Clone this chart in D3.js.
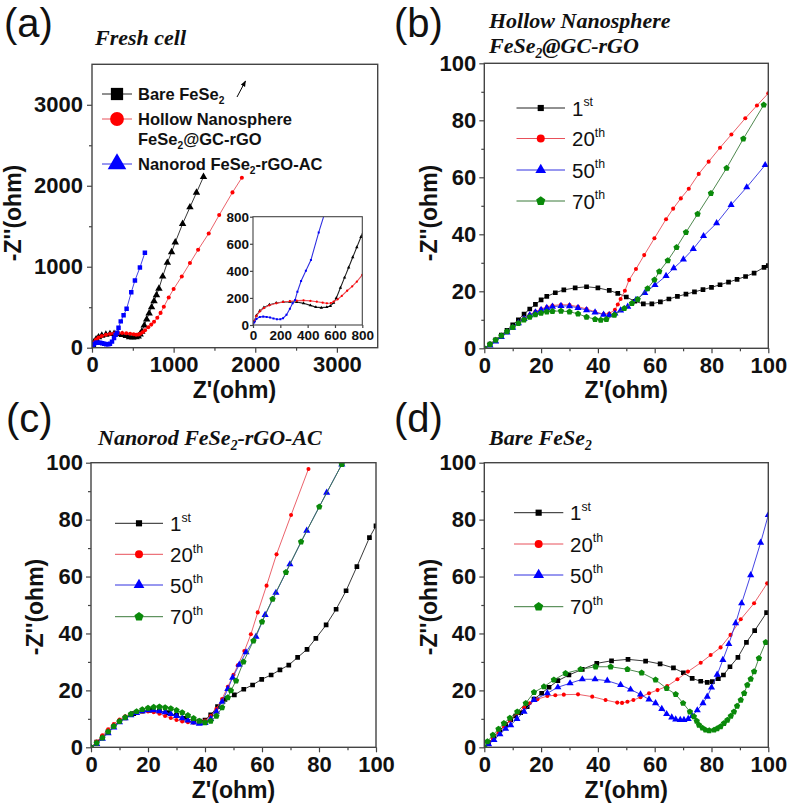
<!DOCTYPE html>
<html><head><meta charset="utf-8">
<script src="https://cdn.jsdelivr.net/npm/d3@7"></script>
<style>body{margin:0;background:#fff}svg{display:block}</style>
</head><body>
<svg id="c" width="787" height="806"></svg>
<script>
// ---------- DATA ----------
// (a) Fresh cell
const aBlackX=[0,10,25,50,80,120,170,220,270,320,370,420,460,500,540,566,590,610,640,670,700,730,760,790,820,866,923,975,1020,1110,1200,1280,1366];
const aBlackY=[0,30,70,105,130,150,163,170,172,170,160,145,132,128,132,140,165,200,275,350,425,500,575,650,730,880,1050,1180,1301,1530,1735,1915,2111];
const aRedX=[0,10,25,50,80,120,170,220,270,320,370,420,467,510,541,570,590,620,650,689,726,760,800,840,880,940,1000,1100,1200,1300,1430,1558,1721,1836];
const aRedY=[0,30,68,100,125,145,160,170,176,180,182,178,172,165,160,162,172,190,215,253,285,320,370,430,505,620,725,880,1045,1210,1411,1638,1918,2100];
const aBlueX=[0,10,25,50,75,100,125,150,175,200,220,245,270,290,308,325,352,387,424,481,526,587,648];
const aBlueY=[0,20,45,60,62,60,55,48,42,42,50,75,120,160,185,246,325,400,480,684,830,990,1173];

// (b) Hollow Nanosphere FeSe2@GC-rGO
const b1X=[0,2,4,6,8,10,12,14,16,18,20,22,25,28,32,36,40,44,47,50,53,56,59,62,65,68,71,74,77,80,83,86,89,92,95,98.5,100];
const b1Y=[0,1.5,3,4.6,6.3,8.2,10,12,13.8,15.4,17,18.2,19.5,20.5,21.2,21.6,21.2,20.3,19.3,18,16.5,15.6,15.6,16.3,17.3,18.2,19,19.8,20.6,21.4,22.3,23.2,24.2,25.2,26.4,28.4,29];
const b20X=[0,2,4,6,8,10,12,14,16,18,20,22,24,27,30,33,36,39,42,44,46,47,48,49.5,51,53.4,56.3,59.9,64,66.5,69.2,72,75.5,79,83,87,91.9,96,100];
const b20Y=[0,1.4,2.8,4.3,5.8,7.4,9,10.5,11.8,12.9,13.8,14.5,15,15.3,15.2,14.6,13.8,12.8,12,12.2,13.5,15.4,17.3,20.2,24,27.8,32.7,38.6,45.3,49,52.6,56,61.2,65.5,70.4,75,80.7,85.2,89.5];
const b50X=[0,2,4,6,8,10,12,14,16,18,20,22,24,27,30,33,36,39,42,44,46,48,50.5,53.4,56.5,60.1,64,66.7,70.1,73.6,77.2,81.8,86.9,92.4,98.9];
const b50Y=[0,1,2.4,4,5.6,7.2,8.8,10.3,11.6,12.6,13.5,14.2,14.6,14.9,14.8,14.2,13.4,12.6,11.8,11.6,12.2,13.3,14.6,17,19.4,22.2,25.4,28.1,31.2,34.9,39.4,43.9,50.3,56.5,64.3];
const b70X=[0,2,4,6,8,10,12,14,16,18,20,22,24,27,30,33,36,39,41,43,45.8,49.3,52,54,57.5,59.9,61.6,64.6,67.7,71,75.1,79.8,85.3,91.2,98.4];
const b70Y=[0,1.4,2.9,4.4,5.9,7.4,8.8,10,11,11.8,12.4,12.8,13,13.1,12.8,12.1,11,10.2,9.9,10.2,11.7,14,15.8,17.2,21,24,26.9,30.8,35.4,40.7,47.1,54.4,63.2,73.5,85.4];

// (c) Nanorod FeSe2-rGO-AC
const c1X=[0,2,4,6,8,10,12,15,18,21,24,27,30,33,36,38,40,42,44.4,47,50.3,53.6,56.7,59.9,63.2,66.3,69.4,72.5,75.8,78.9,82.5,86,89.5,93.3,97.7,100];
const c1Y=[0,1.8,3.6,5.5,7.4,9,10.3,11.8,12.7,13,12.8,12.2,11.2,10.2,9.4,9.2,9.6,11.4,14.3,16.8,18.4,20.4,21.9,23.9,25.4,27.2,28.9,31.6,34.4,38.3,43,48.5,55,63.5,73.7,77.8];
const c20X=[0,2,4,6,8,10,12,14,16,18,20,22,24,26,28,30,32,34,36,38,40,42,44,46,48,50,51.5,53.8,56.1,58.5,61.6,65.1,70.2,76.3];
const c20Y=[0,2,4.2,6.3,8.2,9.8,10.9,11.8,12.3,12.6,12.6,12.3,11.8,11,10.3,9.6,9.1,8.8,8.6,8.7,9.4,11,13.5,17,21.3,25.5,28.8,33.8,39.7,47.4,56.8,67.8,81.6,97.8];
const c50X=[0,2,4,6,8,10,12,14,16,18,20,22,24,26,28,30,32,34,36,38,40,42,44,46,48,49.7,52,54.4,57.9,61.1,64.9,69.8,75.7,82.7,88];
const c50Y=[0,1.2,3,5,7,8.8,10.2,11.3,12.1,12.7,13,13,12.7,12.3,11.7,11,10.2,9.4,8.7,8.3,8.6,10,12.5,16,20.5,24.5,29,33.4,38.9,46.5,54.3,64.3,76.1,89.5,99.4];
const c70X=[0,2,4,6,8,10,12,14,16,18,20,22,24,26,28,30,32,34,36,38,40,42,44,46,48,49.1,50.9,53.5,57,60,63.7,68.4,73.7,80.1,88];
const c70Y=[0,1.5,3.3,5.4,7.4,9.1,10.5,11.7,12.6,13.3,13.8,14.1,14.2,14,13.6,13,12.2,11.2,10.2,9.2,8.7,9.2,11,14,17.5,19.9,23.4,30,37.4,44.1,52.1,61.5,72.2,84.5,99.4];

// (d) Bare FeSe2
const d1X=[0,1.5,3.4,5.5,7.5,9.3,11,12.8,15.1,17.5,20.2,22.8,25.9,29.8,34.5,39.6,44.8,50.6,56.8,61.9,66.6,70.1,73.2,76.2,78.5,80.3,82.4,84.2,86.5,89.3,92.3,95.2,99.4];
const d1Y=[0,1.6,3.7,6,8,9.6,11,12.2,14.3,16.9,19,21.1,23.4,25.4,27.4,29.5,30.4,30.9,30.3,29.3,27.9,26.2,24.2,23.2,22.8,23.1,24.1,25.4,28.3,31.6,36.9,41,47.3];
const d20X=[0,1.5,3,5,7,9,11.6,14,16,18.7,22.2,25,28,33,38,42.7,46.8,48.5,50.4,52.5,55,58,61,64.4,68,71.7,76.2,79.7,83.2,86.7,90.3,95,99.6];
const d20Y=[0,1.5,3.1,5.2,7.3,9.4,12,14,15.5,16.9,18,18.3,18.5,18.6,17.8,16.6,15.7,15.6,16,16.6,17.6,19,20.1,21.5,23.9,26.6,29.7,32.4,35.1,39.5,45,50.6,57.6];
const d50X=[0,1.5,3.4,5.5,7.5,9.3,11.5,14,17.5,22.2,25.9,30.2,34.5,39,43.3,48,51.5,55,58,60.3,62.5,64.2,66,67.4,69,70.3,71.8,73.2,75,77,78.5,80,82,84,86.1,88.5,90.6,93.8,97.3,100];
const d50Y=[0,1.1,2.6,4.6,6.5,7.8,10,12.5,16.6,19,21.1,22.5,23.9,23.9,23.4,21.9,20.3,18.6,16.8,15.5,13.5,11.7,10.5,9.8,9.6,9.6,10,11,13,15.5,17.8,21,25.5,30.7,36.3,43.6,50.6,60.5,71.9,81.6];
const d70X=[0,1.1,3,5,6.9,9,11.6,14.6,17.5,21,24.5,28.6,33.9,39.2,44.5,50.4,55.4,60.3,64.2,67.4,70,72.4,73.8,74.8,75.6,76.8,77.9,79.2,80.9,82,83.2,84.4,85.6,86.8,87.9,89,90.3,91.5,92.6,93.8,95,96.7,99.1];
const d70Y=[0,2,4.3,6.4,8.4,10.3,12.5,15.5,19.3,21.3,23.7,26,27.4,28.3,28.3,27.4,26.2,23.7,20.7,18.6,15.5,12.5,10.8,9.2,7.8,6.8,6.1,5.9,6.1,6.6,7.3,8.4,9.6,11,12.5,14.5,16.6,19,21.9,24,26.6,31.3,36.9];

const cycleLabels=[["1","st"],["20","th"],["50","th"],["70","th"]];
const tickA=[0,1000,2000,3000], minorA=[500,1500,2500];
const tickB=[0,20,40,60,80,100], minorB=[10,30,50,70,90];
const tickInset=[0,200,400,600,800];

// ---------- DRAWING ----------
const svg=d3.select('#c');
const SANS="'Liberation Sans', Arial, sans-serif";
const SERIF="'Liberation Serif', 'Times New Roman', serif";
const COL={k:"#000",r:"#ff0000",b:"#0000ff",g:"#0a8a0a"};
const LCOL={k:"#222",r:"#e8505a",b:"#3030e0",g:"#3b7a3b"};
const pentagon={draw(ctx,size){const r=Math.sqrt(size/(2.5*Math.sin(2*Math.PI/5)));for(let i=0;i<5;i++){const a=-Math.PI/2+i*2*Math.PI/5;const x=r*Math.cos(a),y=r*Math.sin(a);i?ctx.lineTo(x,y):ctx.moveTo(x,y);}ctx.closePath();}};
const SYM={sq:d3.symbolSquare,ci:d3.symbolCircle,tr:d3.symbolTriangle,pe:pentagon};
const zip=(X,Y)=>X.map((v,i)=>[v,Y[i]]);

const defs=svg.append('defs');
defs.append('marker').attr('id','arr').attr('viewBox','0 0 10 10').attr('refX',9).attr('refY',5)
  .attr('markerWidth',6).attr('markerHeight',6).attr('orient','auto')
  .append('path').attr('d','M0,1 L10,5 L0,9 z').attr('fill','#000');

let clipN=0;
function drawPlot(g,o){
  const x=d3.scaleLinear().domain(o.xd).range([o.l,o.r]);
  const y=d3.scaleLinear().domain(o.yd).range([o.b,o.t]);
  const id='clip'+(clipN++);
  defs.append('clipPath').attr('id',id).append('rect').attr('x',o.l).attr('y',o.t).attr('width',o.r-o.l).attr('height',o.b-o.t);
  if(o.bg) g.append('rect').attr('x',o.l).attr('y',o.t).attr('width',o.r-o.l).attr('height',o.b-o.t).attr('fill','#fff');
  const fs=o.fs;
  const ax=g.append('g').attr('transform',`translate(0,${o.b})`).call(d3.axisBottom(x).tickValues(o.ticks).tickSize(o.tk).tickPadding(o.tp).tickFormat(d3.format('d')));
  const ay=g.append('g').attr('transform',`translate(${o.l},0)`).call(d3.axisLeft(y).tickValues(o.ticks).tickSize(o.tk).tickPadding(o.tpy).tickFormat(d3.format('d')));
  if(o.minor){
    g.append('g').attr('transform',`translate(0,${o.b})`).call(d3.axisBottom(x).tickValues(o.minor).tickSize(3).tickFormat(''));
    g.append('g').attr('transform',`translate(${o.l},0)`).call(d3.axisLeft(y).tickValues(o.minor).tickSize(3).tickFormat(''));
  }
  g.selectAll('.domain').remove();
  g.selectAll('.tick line').attr('stroke','#444').attr('stroke-width',1.2);
  g.selectAll('.tick text').filter(function(){return this.textContent==='';}).remove();
  [ax,ay].forEach(a=>a.selectAll('text').attr('font-family',SANS).attr('font-weight','bold').attr('font-size',fs).attr('fill','#111'));
  const pg=g.append('g').attr('clip-path',`url(#${id})`);
  o.series.forEach(s=>{
    const pts=zip(s.x,s.y);
    pg.append('path').attr('d',d3.line().x(d=>x(d[0])).y(d=>y(d[1]))(pts))
      .attr('fill','none').attr('stroke',s.lc).attr('stroke-width',o.lw||0.9);
    const sp=d3.symbol().type(SYM[s.sym]).size(s.size)();
    pg.selectAll(null).data(pts).enter().append('path').attr('d',sp)
      .attr('transform',d=>`translate(${x(d[0])},${y(d[1])})`).attr('fill',s.c);
  });
  g.append('rect').attr('x',o.l).attr('y',o.t).attr('width',o.r-o.l).attr('height',o.b-o.t)
    .attr('fill','none').attr('stroke','#444').attr('stroke-width',o.fw||1.4);
  return {x,y};
}

function subText(g,x,y,parts,size,weight,family,style){
  const t=g.append('text').attr('x',x).attr('y',y).attr('font-family',family).attr('font-size',size)
    .attr('font-weight',weight).attr('font-style',style||'normal').attr('fill','#111');
  let shift=0;
  parts.forEach(p=>{
    if(typeof p==='string'){const ts=t.append('tspan').text(p); if(shift){ts.attr('dy',-shift);shift=0;}}
    else if(p.sub){const d=size*0.22;t.append('tspan').attr('font-size',size*0.62).attr('dy',d-shift).text(p.sub);shift=d;}
    else if(p.sup){const d=-size*0.45;t.append('tspan').attr('font-size',size*0.6).attr('dy',d-shift).text(p.sup);shift=d;}
  });
  return t;
}

function axisTitles(g,cx,cy,xx,xb){
  g.append('text').attr('transform',`translate(${cx},${cy}) rotate(-90)`).attr('text-anchor','middle').attr('dy','0.35em')
    .attr('font-family',SANS).attr('font-weight','bold').attr('font-size',23).attr('fill','#111').text("-Z''(ohm)");
  g.append('text').attr('x',xx).attr('y',xb).attr('text-anchor','middle')
    .attr('font-family',SANS).attr('font-weight','bold').attr('font-size',23).attr('fill','#111').text("Z'(ohm)");
}
function panelLabel(x,y,t){
  svg.append('text').attr('x',x).attr('y',y).attr('font-family',SANS).attr('font-size',40).attr('fill','#111').text(t);
}

// ---- Panel (a)
const gA=svg.append('g');
const aSeries=[
  {x:aBlackX,y:aBlackY,c:COL.k,lc:LCOL.k,sym:'tr',size:24},
  {x:aRedX,y:aRedY,c:COL.r,lc:LCOL.r,sym:'ci',size:13},
  {x:aBlueX,y:aBlueY,c:COL.b,lc:LCOL.b,sym:'sq',size:20}
];
drawPlot(gA,{l:92,r:377.7,t:64.3,b:347.7,xd:[0,3500],yd:[0,3500],ticks:tickA,minor:minorA,tk:5,tp:4,tpy:4,fs:22,series:aSeries});
axisTitles(gA,13,213,234.5,398);
panelLabel(4,37,"(a)");
subText(gA,95,45,["Fresh cell"],22,'bold',SERIF,'italic');
const legA=gA.append('g');
const legRows=[94,119,164];
const legSym=['sq','ci','tr'], legCol=[COL.k,COL.r,COL.b], legLc=[LCOL.k,LCOL.r,LCOL.b], legSz=[150,150,150];
legRows.forEach((ry,i)=>{
  legA.append('line').attr('x1',102).attr('x2',132).attr('y1',ry).attr('y2',ry).attr('stroke',legLc[i]).attr('stroke-width',1);
  legA.append('path').attr('d',d3.symbol().type(SYM[legSym[i]]).size(legSz[i])()).attr('transform',`translate(117,${ry})`).attr('fill',legCol[i]);
});
subText(legA,138,100,["Bare FeSe",{sub:"2"}],16.5,'bold',SANS);
subText(legA,138,125,["Hollow  Nanosphere"],16.5,'bold',SANS);
subText(legA,138,145,["FeSe",{sub:"2"},"@GC-rGO"],16.5,'bold',SANS);
subText(legA,138,170,["Nanorod  FeSe",{sub:"2"},"-rGO-AC"],16.5,'bold',SANS);
legA.append('line').attr('x1',237).attr('y1',97).attr('x2',245.5).attr('y2',81).attr('stroke','#000').attr('stroke-width',1).attr('marker-end','url(#arr)');
const inSeries=[
  {x:aBlackX,y:aBlackY,c:COL.k,lc:LCOL.k,sym:'tr',size:5},
  {x:aRedX,y:aRedY,c:COL.r,lc:LCOL.r,sym:'ci',size:4},
  {x:aBlueX,y:aBlueY,c:COL.b,lc:LCOL.b,sym:'sq',size:4}
];
drawPlot(gA,{l:253,r:362.3,t:216.7,b:325,xd:[0,800],yd:[0,800],ticks:tickInset,minor:null,tk:3,tp:2,tpy:1,fs:13.5,bg:true,fw:1.1,lw:1.1,series:inSeries});

// ---- Panels (b)(c)(d)
function cyclePanel(o){
  const g=svg.append('g');
  const ser=[
    {x:o.d[0][0],y:o.d[0][1],c:COL.k,lc:LCOL.k,sym:'sq',size:22},
    {x:o.d[1][0],y:o.d[1][1],c:COL.r,lc:LCOL.r,sym:'ci',size:13},
    {x:o.d[2][0],y:o.d[2][1],c:COL.b,lc:LCOL.b,sym:'tr',size:22},
    {x:o.d[3][0],y:o.d[3][1],c:COL.g,lc:LCOL.g,sym:'pe',size:26}
  ];
  drawPlot(g,{l:o.l,r:o.r,t:o.t,b:o.b,xd:[0,100],yd:[0,100],ticks:tickB,minor:minorB,tk:5,tp:4,tpy:3,fs:22,series:ser});
  axisTitles(g,o.ytx,o.yty,(o.l+o.r)/2,o.xtb);
  const lg=g.append('g');
  const syms=['sq','ci','tr','pe'],cols=[COL.k,COL.r,COL.b,COL.g],lcs=[LCOL.k,LCOL.r,LCOL.b,LCOL.g],sz=[38,50,50,55];
  o.rows.forEach((ry,i)=>{
    lg.append('line').attr('x1',o.lx0).attr('x2',o.lx1).attr('y1',ry).attr('y2',ry).attr('stroke',lcs[i]).attr('stroke-width',1);
    lg.append('path').attr('d',d3.symbol().type(SYM[syms[i]]).size(sz[i])()).attr('transform',`translate(${(o.lx0+o.lx1)/2},${ry})`).attr('fill',cols[i]);
    subText(lg,o.tx,ry+7.5,[cycleLabels[i][0],{sup:cycleLabels[i][1]}],20.5,'normal',SANS);
  });
  return g;
}
const gB=cyclePanel({l:484.3,r:768.3,t:63.3,b:348.3,d:[[b1X,b1Y],[b20X,b20Y],[b50X,b50Y],[b70X,b70Y]],
  ytx:429,yty:213,xtb:398,rows:[108,138.5,170,201],lx0:516.5,lx1:565,tx:572});
panelLabel(394,37,"(b)");
subText(gB,489,28,["Hollow Nanosphere"],22,'bold',SERIF,'italic');
subText(gB,489,53,["FeSe",{sub:"2"},"@GC-rGO"],22,'bold',SERIF,'italic');

const gC=cyclePanel({l:91,r:376,t:462.7,b:747.3,d:[[c1X,c1Y],[c20X,c20Y],[c50X,c50Y],[c70X,c70Y]],
  ytx:35,yty:607,xtb:798,rows:[523.3,554.3,585,616.7],lx0:115,lx1:163,tx:170});
panelLabel(6,432,"(c)");
subText(gC,98,445,["Nanorod FeSe",{sub:"2"},"-rGO-AC"],22,'bold',SERIF,'italic');

const gD=cyclePanel({l:484.3,r:768.3,t:462.7,b:747.3,d:[[d1X,d1Y],[d20X,d20Y],[d50X,d50Y],[d70X,d70Y]],
  ytx:429,yty:607,xtb:798,rows:[512.7,544,575,606.7],lx0:514,lx1:563.3,tx:570});
panelLabel(394,432,"(d)");
subText(gD,489,445,["Bare FeSe",{sub:"2"}],22,'bold',SERIF,'italic');
</script>
</body></html>
